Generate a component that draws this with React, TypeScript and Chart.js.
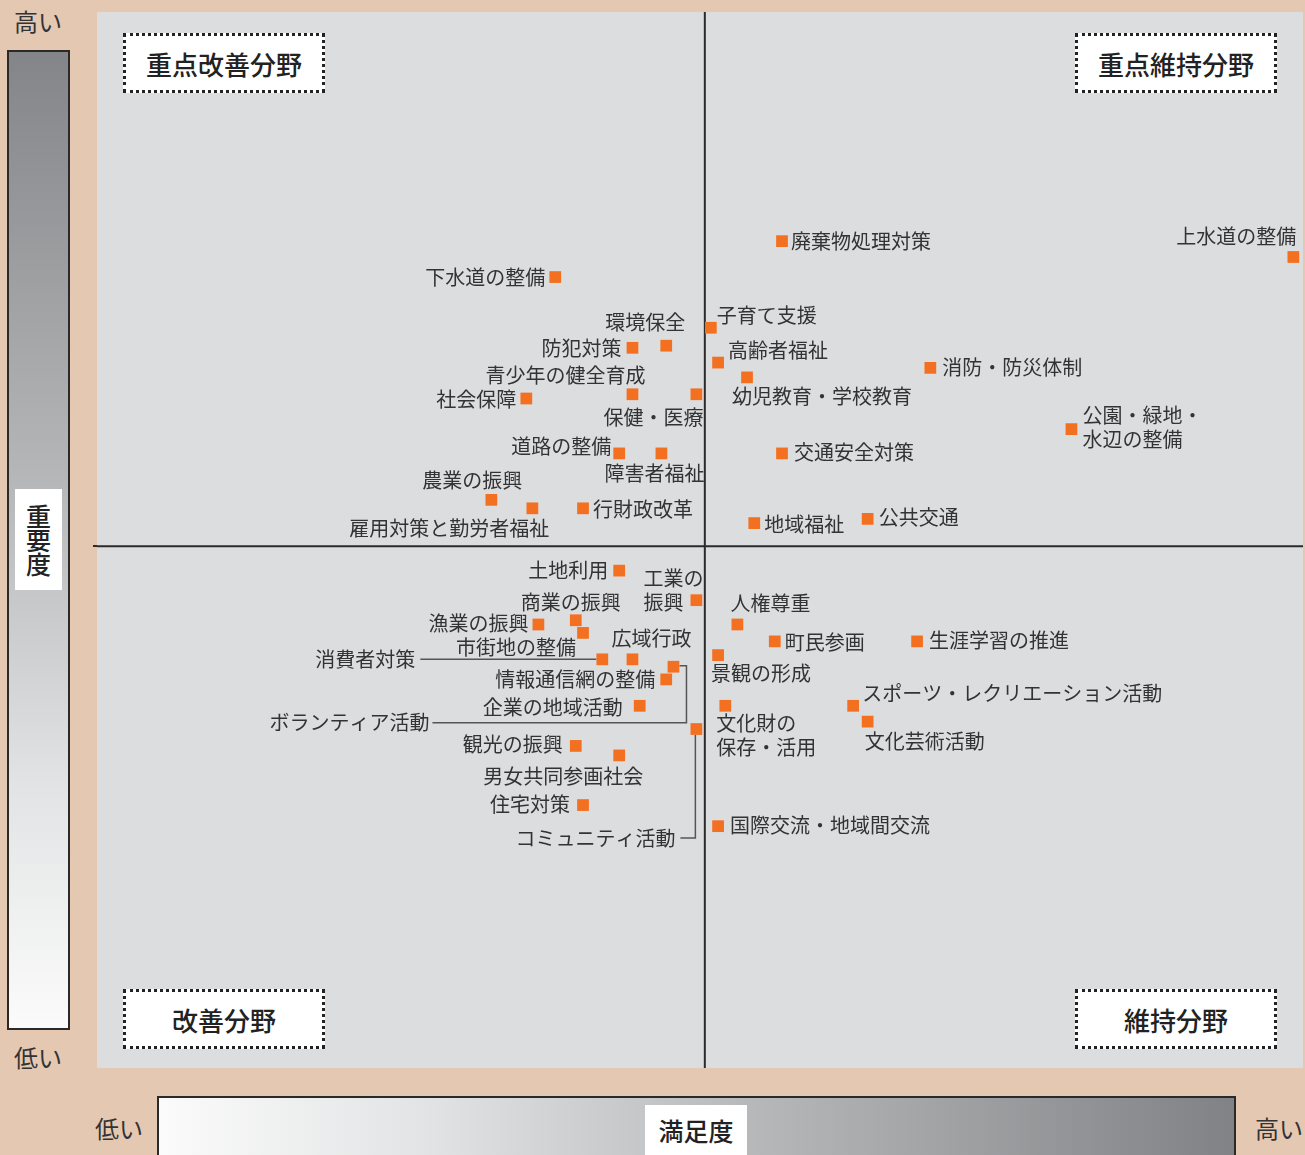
import React, { useEffect, useRef } from "react";
import { Chart, registerables } from "chart.js";

Chart.register(...registerables);

// ---- Data ----
const ITEMS: string[] = [
  // 重点改善分野
  "下水道の整備", "環境保全", "防犯対策", "青少年の健全育成", "保健・医療", "社会保障",
  "道路の整備", "障害者福祉", "農業の振興", "雇用対策と勤労者福祉", "行財政改革",
  // 重点維持分野
  "廃棄物処理対策", "子育て支援", "高齢者福祉", "幼児教育・学校教育", "消防・防災体制",
  "公園・緑地・\n水辺の整備", "上水道の整備", "交通安全対策", "地域福祉", "公共交通",
  // 改善分野
  "土地利用", "工業の\n振興", "商業の振興", "漁業の振興", "市街地の整備", "広域行政",
  "消費者対策", "ボランティア活動", "情報通信網の整備", "企業の地域活動", "コミュニティ活動",
  "観光の振興", "男女共同参画社会", "住宅対策",
  // 維持分野
  "人権尊重", "町民参画", "生涯学習の推進", "景観の形成", "文化財の\n保存・活用",
  "スポーツ・レクリエーション活動", "文化芸術活動", "国際交流・地域間交流",
];

// 満足度 (x, deviation from mean)
const SATISFACTION: number[] = [
  -12.4, -3.2, -6.0, -6.0, -0.7, -14.8, -7.1, -3.6, -17.7, -14.3, -10.1,
  6.4, 0.5, 1.1, 3.5, 18.7, 30.4, 48.8, 6.4, 4.1, 13.5,
  -7.1, -0.7, -10.7, -13.8, -10.1, -6.0, -8.5, -2.6, -3.2, -5.4, -0.7, -10.7, -7.1, -10.1,
  2.7, 5.8, 17.6, 1.1, 1.7, 12.3, 13.5, 1.1,
];

// 重要度 (y, deviation from mean)
const IMPORTANCE: number[] = [
  25.5, 19.0, 18.8, 14.4, 14.4, 14.0, 8.8, 8.8, 4.4, 3.6, 3.6,
  28.9, 20.7, 17.4, 16.0, 16.9, 11.1, 27.4, 8.8, 2.2, 2.6,
  -2.3, -5.1, -7.0, -7.4, -8.2, -10.7, -10.7, -11.4, -12.6, -15.1, -17.3, -18.9, -19.8, -24.5,
  -7.4, -9.0, -9.0, -10.3, -15.1, -15.1, -16.6, -26.5,
];

const QUADRANTS: string[] = ["重点改善分野", "重点維持分野", "改善分野", "維持分野"];
const AXIS_TITLES = { x: "満足度", y: "重要度", high: "高い", low: "低い" };

// ---- Layout (label offsets in px relative to marker: dx, dy, align) ----
const LABEL_LAYOUT: [number, number, CanvasTextAlign][] = [
  [-10, 0, "right"], [19, -23, "right"], [-11, 1, "right"], [13, -19, "right"], [7, 23, "right"],
  [-10, 1, "right"], [-8, -7, "right"], [43, 20, "right"], [31, -19, "right"], [17, 20, "right"],
  [10, 1, "left"],
  [9, 0, "left"], [6, -12, "left"], [10, -12, "left"], [-15, 19, "left"], [12, 0, "left"],
  [11, -14, "left"], [3, -21, "right"], [12, -1, "left"], [10, 1, "left"], [11, -1, "left"],
  [-11, 0, "right"], [-53, -22, "left"], [45, -18, "right"], [-10, -1, "right"], [-7, 14, "right"],
  [-21, -21, "left"], [-187, 0, "right"], [-244, 56, "right"], [-11, 0, "right"], [-17, 2, "right"],
  [-21, 109, "right"], [-13, -2, "right"], [24, 21, "right"], [-13, -1, "right"],
  [-7, -21, "left"], [10, 1, "left"], [12, -1, "left"], [-7, 18, "left"], [-9, 18, "left"],
  [9, -12, "left"], [-3, 20, "left"], [12, -1, "left"],
];

const LEADERS: Record<string, [number, number][]> = {
  "消費者対策": [[-182, 0], [-6, 0]],
  "ボランティア活動": [[6, -1], [13, -1], [13, 56], [-241, 56]],
  "コミュニティ活動": [[-1, 6], [-1, 109], [-16, 109]],
};

const FONT = "'Noto Sans CJK JP', 'Noto Sans', sans-serif";
const PEACH = "#e5c8b2";
const PLOT_BG = "#dcdddf";
const ORANGE = "#f37021";
const TEXT = "#333333";

const overlayPlugin = {
  id: "overlay",
  beforeDatasetsDraw(chart: any) {
    const { ctx, chartArea, scales } = chart;
    const x0 = scales.x.getPixelForValue(0);
    const y0 = scales.y.getPixelForValue(0);
    ctx.save();
    ctx.strokeStyle = "#2b2b2b";
    ctx.lineWidth = 2;
    ctx.beginPath();
    ctx.moveTo(x0, chartArea.top);
    ctx.lineTo(x0, chartArea.bottom);
    ctx.moveTo(chartArea.left, y0);
    ctx.lineTo(chartArea.right, y0);
    ctx.stroke();

    const meta = chart.getDatasetMeta(0);
    ctx.strokeStyle = "#555";
    ctx.lineWidth = 1.5;
    ITEMS.forEach((name, i) => {
      const pts = LEADERS[name];
      if (!pts) return;
      const el = meta.data[i];
      ctx.beginPath();
      pts.forEach(([dx, dy], k) => {
        const px = el.x + dx, py = el.y + dy;
        if (k === 0) ctx.moveTo(px, py); else ctx.lineTo(px, py);
      });
      ctx.stroke();
    });
    ctx.restore();
  },
  afterDatasetsDraw(chart: any) {
    const { ctx } = chart;
    const meta = chart.getDatasetMeta(0);
    ctx.save();
    ctx.font = `20px ${FONT}`;
    ctx.fillStyle = TEXT;
    ctx.textBaseline = "middle";
    ITEMS.forEach((name, i) => {
      const el = meta.data[i];
      const [dx, dy, align] = LABEL_LAYOUT[i];
      ctx.textAlign = align;
      name.split("\n").forEach((line, k) => {
        ctx.fillText(line, el.x + dx, el.y + dy + k * 24);
      });
    });
    ctx.restore();
  },
};

function ScatterChart() {
  const ref = useRef<HTMLCanvasElement>(null);
  useEffect(() => {
    if (!ref.current) return;
    const chart = new Chart(ref.current, {
      type: "scatter",
      data: {
        datasets: [
          {
            data: SATISFACTION.map((x, i) => ({ x, y: IMPORTANCE[i] })),
            pointStyle: "rect",
            pointRadius: 8.3,
            pointHoverRadius: 8.3,
            backgroundColor: ORANGE,
            borderWidth: 0,
          },
        ],
      },
      options: {
        animation: false,
        responsive: false,
        maintainAspectRatio: false,
        layout: { padding: 0, autoPadding: false },
        plugins: { legend: { display: false }, tooltip: { enabled: false } },
        scales: {
          x: { type: "linear", min: -50.4, max: 49.6, display: false },
          y: { type: "linear", min: -49.4, max: 50.6, display: false },
        },
      },
      plugins: [overlayPlugin],
    });
    return () => chart.destroy();
  }, []);
  return (
    <canvas
      ref={ref}
      width={1206}
      height={1056}
      style={{ position: "absolute", left: 97, top: 12, width: 1206, height: 1056, background: PLOT_BG }}
    />
  );
}

const quadBox = (left: number, top: number, text: string) => (
  <div
    key={text}
    style={{
      position: "absolute",
      left,
      top,
      width: 202,
      height: 60,
      boxSizing: "border-box",
      border: "3.5px dotted #222",
      background: "#fff",
      display: "flex",
      alignItems: "center",
      justifyContent: "center",
      fontSize: 26,
      fontWeight: 500,
      color: "#222",
      letterSpacing: 0,
    }}
  >
    {text}
  </div>
);

const smallLabel = (left: number, top: number, text: string) => (
  <div
    style={{
      position: "absolute",
      left,
      top,
      width: 50,
      height: 30,
      lineHeight: "30px",
      fontSize: 24,
      color: TEXT,
      textAlign: "center",
    }}
  >
    {text}
  </div>
);

export default function App() {
  return (
    <div
      style={{
        position: "absolute",
        left: 0,
        top: 0,
        width: 1305,
        height: 1155,
        background: PEACH,
        overflow: "hidden",
        fontFamily: FONT,
      }}
    >
      {/* vertical importance bar */}
      <div
        style={{
          position: "absolute",
          left: 7,
          top: 50,
          width: 63,
          height: 980,
          boxSizing: "border-box",
          border: "2px solid #2a2a2a",
          background: "linear-gradient(to bottom, #838588 0%, #b7b8ba 45%, #e2e3e4 75%, #fbfbfb 100%)",
        }}
      />
      <div
        style={{
          position: "absolute",
          left: 15,
          top: 489,
          width: 47,
          height: 101,
          background: "#fff",
          display: "flex",
          alignItems: "center",
          justifyContent: "center",
        }}
      >
        <div
          style={{
            writingMode: "vertical-rl",
            textOrientation: "upright",
            fontSize: 25,
            fontWeight: 500,
            color: "#222",
            letterSpacing: -1,
          }}
        >
          {AXIS_TITLES.y}
        </div>
      </div>
      {smallLabel(13, 6, AXIS_TITLES.high)}
      {smallLabel(13, 1042, AXIS_TITLES.low)}

      {/* horizontal satisfaction bar */}
      <div
        style={{
          position: "absolute",
          left: 157,
          top: 1096,
          width: 1079,
          height: 70,
          boxSizing: "border-box",
          border: "2px solid #2a2a2a",
          background: "linear-gradient(to right, #fbfbfb 0%, #e2e3e4 25%, #b7b8ba 55%, #808285 100%)",
        }}
      />
      <div
        style={{
          position: "absolute",
          left: 645,
          top: 1105,
          width: 102,
          height: 50,
          background: "#fff",
          display: "flex",
          alignItems: "center",
          justifyContent: "center",
          fontSize: 25,
          fontWeight: 500,
          color: "#222",
        }}
      >
        {AXIS_TITLES.x}
      </div>
      {smallLabel(94, 1113, AXIS_TITLES.low)}
      {smallLabel(1254, 1113, AXIS_TITLES.high)}

      <ScatterChart />
      {/* short extension of the horizontal mean line past the plot edge */}
      <div style={{ position: "absolute", left: 93, top: 545, width: 4, height: 2, background: "#2b2b2b" }} />

      {quadBox(123, 33, QUADRANTS[0])}
      {quadBox(1075, 33, QUADRANTS[1])}
      {quadBox(123, 989, QUADRANTS[2])}
      {quadBox(1075, 989, QUADRANTS[3])}
    </div>
  );
}
